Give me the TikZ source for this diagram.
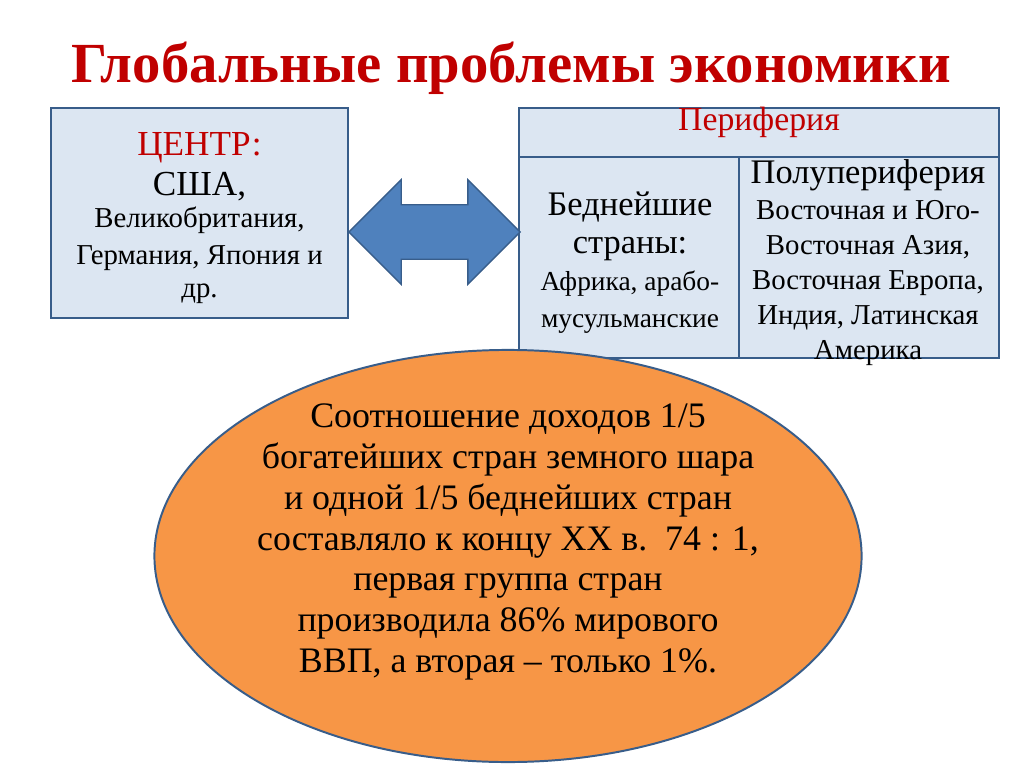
\documentclass[tikz,border=0pt]{standalone}
\usepackage{fontspec}
\usepackage{graphicx}
\setmainfont{Liberation Serif}
\usetikzlibrary{shapes,shapes.geometric,shapes.arrows,positioning}

\definecolor{boxfill}{RGB}{220,230,242}
\definecolor{boxline}{RGB}{56,93,138}
\definecolor{arrowfill}{RGB}{79,129,189}
\definecolor{ovalfill}{RGB}{247,150,70}
\definecolor{titlered}{RGB}{192,0,0}

% one font size only, lines are scaled
\newcommand{\sized}[2]{\scalebox{#1}{#2}}

\begin{document}
\begin{tikzpicture}[x=0.025cm,y=-0.025cm]
	\tikzstyle{cell} = [
		rectangle,
		draw=boxline,
		fill=boxfill,
		line width=1.6pt,
		inner sep=0pt
	]
	\tikzstyle{words} = [
		align=center,
		inner sep=0pt,
		text=black
	]

	\useasboundingbox (0,0) rectangle (1024,767);

	\node (title) at (511,83) [words, anchor=base, text=titlered, font=\fontsize{20}{24}\selectfont\bfseries] {\sized{2.015}{Глобальные проблемы экономики}};

	% centre of the world economy
	\node (centre) at (199.5,213) [cell, minimum width=7.425cm, minimum height=5.25cm] {};
	\node (centretext) at (199.5,218) [words, font=\fontsize{20}{26.5}\selectfont] {\sized{1.25}{\textcolor{titlered}{ЦЕНТР:}}\\[1.5pt]
		\sized{1.25}{США,}\\[-3.5pt]
		\sized{1.025}{Великобритания,}\\
		\sized{1.025}{Германия, Япония и}\\[-3.5pt]
		\sized{1.025}{др.}};

	% periphery table
	\node (perif) at (759,132.5) [cell, minimum width=12cm, minimum height=1.225cm] {};
	\node (poorest) at (629,257.5) [cell, minimum width=5.5cm, minimum height=5.025cm] {};
	\node (semi) at (869,257.5) [cell, minimum width=6.5cm, minimum height=5.025cm] {};

	\node (periftext) at (759,122) [words, text=titlered, font=\fontsize{20}{24}\selectfont] {\sized{1.2}{Периферия}};
	\node (poortext) at (630,263) [words, font=\fontsize{20}{26.5}\selectfont] {\sized{1.225}{Беднейшие}\\
		\sized{1.225}{страны:}\\
		\sized{0.975}{Африка, арабо-}\\
		\sized{0.975}{мусульманские}};
	\node (semitext) at (868,263) [words, font=\fontsize{20}{25}\selectfont] {\sized{1.225}{Полупериферия}\\
		\sized{1.025}{Восточная и Юго-}\\
		\sized{1.025}{Восточная Азия,}\\
		\sized{1.025}{Восточная Европа,}\\
		\sized{1.025}{Индия, Латинская}\\
		\sized{1.025}{Америка}};

	% exchange between centre and periphery
	\node (link) at (434.5,232) [double arrow, fill=arrowfill, draw=boxline, line width=1pt,
		minimum height=4.275cm, minimum width=2.575cm, double arrow head extend=0.625cm,
		inner xsep=0pt, inner ysep=0.6625cm] {};

	% income ratio
	\node (ratio) at (508,556) [ellipse, fill=ovalfill, draw=boxline, line width=1.4pt,
		minimum width=17.675cm, minimum height=10.3cm] {};
	\node (ratiotext) at (508,542) [words, font=\fontsize{20}{29}\selectfont] {\sized{1.275}{Соотношение доходов 1/5}\\
		\sized{1.275}{богатейших стран земного шара}\\
		\sized{1.275}{и одной 1/5 беднейших стран}\\
		\sized{1.275}{составляло к концу XX в.\ \ 74 : 1,}\\
		\sized{1.275}{первая группа стран}\\
		\sized{1.275}{производила 86\% мирового}\\
		\sized{1.275}{ВВП, а вторая – только 1\%.}};
\end{tikzpicture}
\end{document}
